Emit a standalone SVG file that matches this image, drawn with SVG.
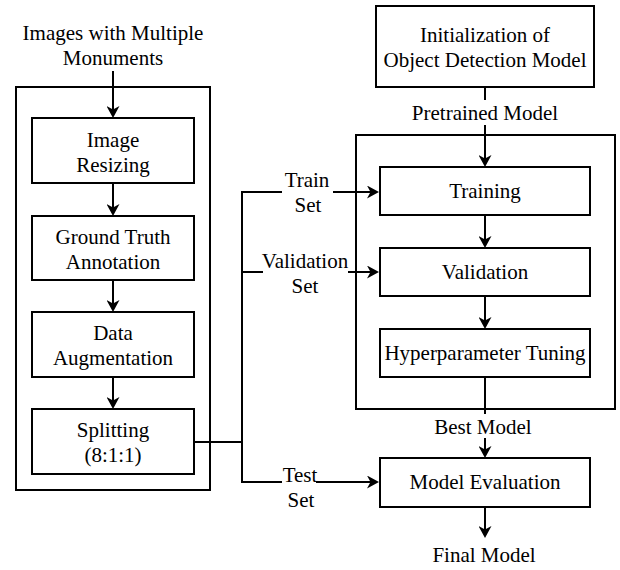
<svg xmlns="http://www.w3.org/2000/svg" width="620" height="570" viewBox="0 0 620 570">
<style>
  .box { fill: #ffffff; stroke: #000000; stroke-width: 2; }
  .cont { fill: none; stroke: #000000; stroke-width: 2; }
  .t { font-size: 21px; fill: #000000; text-anchor: middle; }
  .edge { fill: none; stroke: #000000; stroke-width: 2; }
  .arr { marker-end: url(#ah); }
  .lbg { fill: #ffffff; stroke: none; }
</style>
<defs>
  <marker id="ah" viewBox="0 0 12 13" refX="8" refY="6.5" markerWidth="12" markerHeight="13" markerUnits="userSpaceOnUse" orient="auto">
    <path d="M0,0 L12,6.5 L0,13 L3.5,6.5 Z" fill="#000000"/>
  </marker>
</defs>
<rect width="620" height="570" fill="#ffffff"/>

<g id="preprocessing-container">
  <rect class="cont" x="16" y="87" width="194" height="403"/>
</g>
<g id="training-container">
  <rect class="cont" x="356" y="135" width="259" height="274"/>
</g>

<g id="connectors">
  <line class="edge arr" x1="113" y1="71" x2="113" y2="114"/>
  <line class="edge arr" x1="113" y1="183" x2="113" y2="212"/>
  <line class="edge arr" x1="113" y1="280" x2="113" y2="308"/>
  <line class="edge arr" x1="113" y1="377" x2="113" y2="405"/>
  <polyline class="edge" points="194,442 242,442"/>
  <line class="edge" x1="242" y1="192" x2="242" y2="482"/>
  <line class="edge arr" x1="241" y1="192" x2="375" y2="192"/>
  <line class="edge arr" x1="241" y1="272" x2="375" y2="272"/>
  <line class="edge arr" x1="241" y1="482" x2="375" y2="482"/>
  <line class="edge arr" x1="485" y1="87" x2="485" y2="163"/>
  <line class="edge arr" x1="485" y1="215" x2="485" y2="244"/>
  <line class="edge arr" x1="485" y1="296" x2="485" y2="325"/>
  <line class="edge arr" x1="485" y1="377" x2="485" y2="454"/>
  <line class="edge arr" x1="485" y1="507" x2="485" y2="534"/>
  <rect class="lbg" x="282" y="172" width="51" height="42"/>
  <rect class="lbg" x="263" y="252" width="85" height="42"/>
  <rect class="lbg" x="282" y="466" width="34" height="44"/>
  <rect class="lbg" x="410" y="100" width="150" height="25"/>
  <rect class="lbg" x="430" y="414" width="110" height="24"/>
  <text class="t" style="font-family:'Liberation Serif',serif" x="307" y="187">Train</text>
  <text class="t" style="font-family:'Liberation Serif',serif" x="308" y="212">Set</text>
  <text class="t" style="font-family:'Liberation Serif',serif" x="305" y="268">Validation</text>
  <text class="t" style="font-family:'Liberation Serif',serif" x="305" y="293">Set</text>
  <text class="t" style="font-family:'Liberation Serif',serif" x="300" y="482">Test</text>
  <text class="t" style="font-family:'Liberation Serif',serif" x="301" y="507">Set</text>
  <text class="t" style="font-family:'Liberation Serif',serif" x="485" y="120">Pretrained Model</text>
  <text class="t" style="font-family:'Liberation Serif',serif" x="483" y="434">Best Model</text>
</g>

<g id="input">
  <text class="t" style="font-family:'Liberation Serif',serif" x="113" y="40">Images with Multiple</text>
  <text class="t" style="font-family:'Liberation Serif',serif" x="113" y="65">Monuments</text>
</g>
<g id="image-resizing">
  <rect class="box" x="32" y="118" width="162" height="65"/>
  <text class="t" style="font-family:'Liberation Serif',serif" x="113" y="147">Image</text>
  <text class="t" style="font-family:'Liberation Serif',serif" x="113" y="172">Resizing</text>
</g>
<g id="ground-truth">
  <rect class="box" x="32" y="216" width="162" height="64"/>
  <text class="t" style="font-family:'Liberation Serif',serif" x="113" y="244">Ground Truth</text>
  <text class="t" style="font-family:'Liberation Serif',serif" x="113" y="269">Annotation</text>
</g>
<g id="data-augmentation">
  <rect class="box" x="32" y="312" width="162" height="65"/>
  <text class="t" style="font-family:'Liberation Serif',serif" x="113" y="340">Data</text>
  <text class="t" style="font-family:'Liberation Serif',serif" x="113" y="365">Augmentation</text>
</g>
<g id="splitting">
  <rect class="box" x="32" y="409" width="162" height="65"/>
  <text class="t" style="font-family:'Liberation Serif',serif" x="113" y="437">Splitting</text>
  <text class="t" style="font-family:'Liberation Serif',serif" x="113" y="462">(8:1:1)</text>
</g>
<g id="initialization">
  <rect class="box" x="376" y="6" width="218" height="81"/>
  <text class="t" style="font-family:'Liberation Serif',serif" x="485" y="42">Initialization of</text>
  <text class="t" style="font-family:'Liberation Serif',serif" x="485" y="67">Object Detection Model</text>
</g>
<g id="training">
  <rect class="box" x="380" y="167" width="210" height="48"/>
  <text class="t" style="font-family:'Liberation Serif',serif" x="485" y="198">Training</text>
</g>
<g id="validation">
  <rect class="box" x="380" y="248" width="210" height="48"/>
  <text class="t" style="font-family:'Liberation Serif',serif" x="485" y="279">Validation</text>
</g>
<g id="hyperparameter-tuning">
  <rect class="box" x="380" y="329" width="210" height="48"/>
  <text class="t" style="font-family:'Liberation Serif',serif" x="485" y="360">Hyperparameter Tuning</text>
</g>
<g id="model-evaluation">
  <rect class="box" x="380" y="458" width="210" height="49"/>
  <text class="t" style="font-family:'Liberation Serif',serif" x="485" y="489">Model Evaluation</text>
</g>
<g id="final-model">
  <text class="t" style="font-family:'Liberation Serif',serif" x="484" y="562">Final Model</text>
</g>
</svg>
